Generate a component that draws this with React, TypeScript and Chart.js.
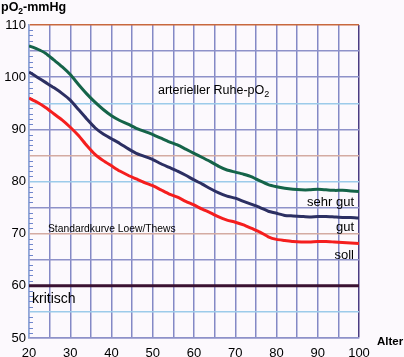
import React, { useEffect, useRef } from 'react';
import { Chart, registerables } from 'chart.js';
Chart.register(...registerables);

const ages = [20, 22, 24, 26, 28, 30, 32, 34, 36, 38, 40, 42, 44, 46, 48, 50, 52, 54, 56, 58, 60, 62, 64, 66, 68, 70, 72, 74, 76, 78, 80, 82, 84, 86, 88, 90, 92, 94, 96, 98, 100];
const sehrGut = [106.0, 105.4, 104.6, 103.3, 102.0, 100.5, 98.6, 96.8, 95.2, 93.8, 92.6, 91.7, 91.0, 90.2, 89.6, 89.0, 88.3, 87.6, 87.0, 86.2, 85.4, 84.6, 83.8, 82.9, 82.2, 81.8, 81.4, 80.9, 80.1, 79.4, 79.0, 78.7, 78.5, 78.4, 78.4, 78.5, 78.4, 78.3, 78.3, 78.2, 78.1];
const gut = [101.0, 100.0, 99.0, 98.0, 96.9, 95.6, 93.8, 92.0, 90.3, 89.1, 88.2, 87.3, 86.3, 85.4, 84.8, 84.2, 83.4, 82.7, 82.0, 81.2, 80.3, 79.5, 78.6, 77.8, 77.2, 76.8, 76.2, 75.6, 75.0, 74.3, 73.9, 73.5, 73.4, 73.3, 73.2, 73.3, 73.3, 73.2, 73.1, 73.1, 73.0];
const soll = [96.0, 95.2, 94.2, 93.0, 91.8, 90.4, 88.8, 86.9, 85.2, 84.0, 83.0, 82.0, 81.2, 80.5, 79.8, 79.2, 78.4, 77.6, 77.0, 76.2, 75.5, 74.7, 74.0, 73.2, 72.6, 72.2, 71.7, 71.0, 70.3, 69.4, 68.9, 68.7, 68.5, 68.4, 68.4, 68.5, 68.5, 68.4, 68.3, 68.2, 68.1];
const kritischAges = [20, 100];
const kritischValues = [60, 60];
const xMin = 20, xMax = 100, yMin = 50, yMax = 110;

const FONT = '"Liberation Sans", Arial, sans-serif';

function hColor(v: number): string {
  if (v === 110) return '#c8683e';
  if (v === 85 || v === 70) return '#d4aba2';
  if (v === 95 || v === 80 || v === 55) return '#9ccbea';
  return '#8e92c9';
}
function vColor(v: number): string {
  if (v === 100) return '#4a3c82';
  return '#8489c6';
}

const decorPlugin = {
  id: 'decor',
  beforeDraw(chart: any) {
    const ctx = chart.ctx;
    ctx.save();
    ctx.fillStyle = '#fcf9fd';
    ctx.fillRect(0, 0, chart.width, chart.height);
    ctx.restore();
  },
  beforeDatasetsDraw(chart: any) {
    const ctx = chart.ctx;
    const y = chart.scales.y;
    const left = chart.chartArea.left;
    ctx.save();
    ctx.strokeStyle = '#6f86cc';
    ctx.lineWidth = 1;
    for (let v = yMin + 1; v < yMax; v++) {
      if (v % 5 === 0) continue;
      const py = Math.round(y.getPixelForValue(v)) + 0.5;
      ctx.beginPath();
      ctx.moveTo(left, py);
      ctx.lineTo(left + 4, py);
      ctx.stroke();
    }
    ctx.restore();
  },
  afterDraw(chart: any) {
    const ctx = chart.ctx;
    ctx.save();
    ctx.fillStyle = '#000';
    ctx.textBaseline = 'alphabetic';
    ctx.font = `bold 12.5px ${FONT}`;
    ctx.textAlign = 'left';
    let x = 1;
    ctx.fillText('pO', x, 11);
    x += ctx.measureText('pO').width;
    ctx.font = `bold 8.5px ${FONT}`;
    ctx.fillText('2', x, 14);
    x += ctx.measureText('2').width;
    ctx.font = `bold 12.5px ${FONT}`;
    ctx.fillText('-mmHg', x, 11);
    ctx.font = `bold 11.5px ${FONT}`;
    ctx.fillText('Alter', 377, 345);
    ctx.font = `12.5px ${FONT}`;
    let ax = 158;
    ctx.fillText('arterieller Ruhe-pO', ax, 94);
    ax += ctx.measureText('arterieller Ruhe-pO').width;
    ctx.font = `9px ${FONT}`;
    ctx.fillText('2', ax, 97);
    ctx.font = `10.3px ${FONT}`;
    ctx.fillText('Standardkurve Loew/Thews', 48, 232);
    ctx.font = `14px ${FONT}`;
    ctx.fillText('kritisch', 32, 303);
    ctx.font = `13px ${FONT}`;
    ctx.textAlign = 'right';
    ctx.fillText('sehr gut', 354, 206);
    ctx.fillText('gut', 354, 231);
    ctx.fillText('soll', 354, 259);
    ctx.restore();
  },
};

export default function App() {
  const ref = useRef<HTMLCanvasElement | null>(null);
  useEffect(() => {
    document.body.style.margin = '0';
    if (!ref.current) return;
    const mk = (vals: number[]) => ages.map((a, i) => ({ x: a, y: vals[i] }));
    const chart = new Chart(ref.current, {
      type: 'line',
      data: {
        datasets: [
          { label: 'kritisch', data: kritischAges.map((a, i) => ({ x: a, y: kritischValues[i] })), borderColor: '#3a1232', borderWidth: 3, pointRadius: 0, tension: 0 },
          { label: 'soll', data: mk(soll), borderColor: '#f51e1e', borderWidth: 3, pointRadius: 0, tension: 0.2 },
          { label: 'gut', data: mk(gut), borderColor: '#2c2f62', borderWidth: 3, pointRadius: 0, tension: 0.2 },
          { label: 'sehr gut', data: mk(sehrGut), borderColor: '#156449', borderWidth: 3, pointRadius: 0, tension: 0.2 },
        ],
      },
      options: {
        animation: false,
        responsive: false,
        devicePixelRatio: 1,
        layout: { padding: { top: 25, right: 45, left: 0, bottom: 0 } },
        plugins: { legend: { display: false }, tooltip: { enabled: false } },
        scales: {
          x: {
            type: 'linear',
            min: xMin,
            max: xMax,
            afterFit: (s: any) => { s.height = 19; },
            ticks: {
              stepSize: 5,
              color: '#000',
              font: { family: FONT, size: 13 },
              padding: 8,
              maxRotation: 0,
              autoSkip: false,
              callback: (v: any) => (Number(v) % 10 === 0 ? String(v) : ''),
            },
            grid: {
              drawTicks: false,
              lineWidth: 1.5,
              color: (c: any) => vColor(c.tick ? c.tick.value : 0),
            },
            border: { color: '#8e92c9', width: 1.5 },
          },
          y: {
            type: 'linear',
            min: yMin,
            max: yMax,
            afterFit: (s: any) => { s.width = 29; },
            ticks: {
              stepSize: 5,
              color: '#000',
              font: { family: FONT, size: 13 },
              padding: 3,
              autoSkip: false,
              callback: (v: any) => (Number(v) % 10 === 0 ? String(v) : ''),
            },
            grid: {
              drawTicks: false,
              lineWidth: 1.5,
              color: (c: any) => hColor(c.tick ? c.tick.value : 0),
            },
            border: { color: '#8fa6d8', width: 1.5 },
          },
        },
      },
      plugins: [decorPlugin],
    });
    return () => chart.destroy();
  }, []);
  return (
    <div style={{ width: 404, height: 357 }}>
      <canvas ref={ref} width={404} height={357} />
    </div>
  );
}
